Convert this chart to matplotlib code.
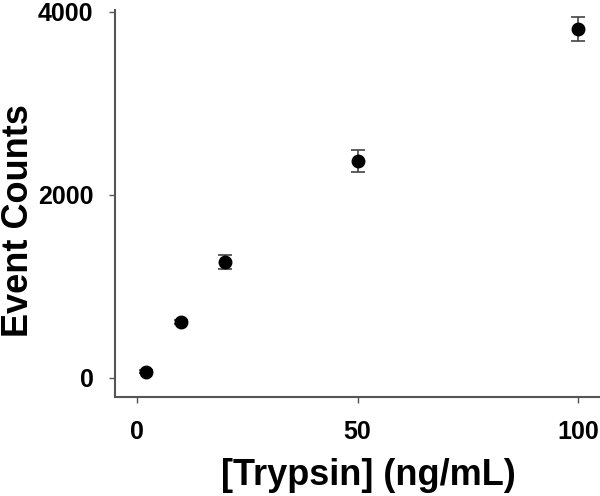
import numpy as np
import matplotlib.pyplot as plt

plt.rcParams['font.family'] = ['Liberation Sans', 'DejaVu Sans']

# data
trypsin = [2, 10, 20, 50, 100]
counts = [70, 612, 1270, 2370, 3815]
err = [20, 25, 75, 120, 130]

fig = plt.figure(figsize=(6, 4.96), dpi=100)
ax = fig.add_axes([115/600, 1 - 397/496, 485/600, 387/496])

ax.errorbar(trypsin, counts, yerr=err, fmt='o', color='black', ms=9,
            ecolor='#444444', elinewidth=1.2, capsize=5, capthick=1.2)

ax.set_xlim(-5, 105)
ax.set_ylim(-208, 4020)
ax.set_xticks([0, 50, 100])
ax.set_yticks([0, 2000, 4000])

for s in ['top', 'right']:
    ax.spines[s].set_visible(False)
for s in ['left', 'bottom']:
    ax.spines[s].set_color('#555555')
    ax.spines[s].set_linewidth(1.5)

ax.tick_params(direction='out', length=4.5, width=1, color='#555555',
               labelsize=18)
ax.tick_params(axis='y', pad=11)
ax.tick_params(axis='x', pad=12)
for lab in ax.get_xticklabels() + ax.get_yticklabels():
    lab.set_fontweight('bold')

ax.set_xlabel('[Trypsin] (ng/mL)', fontsize=26, fontweight='bold')
ax.set_ylabel('Event Counts', fontsize=26, fontweight='bold')
ax.xaxis.set_label_coords(0.5216, -0.158)
ax.yaxis.set_label_coords(-0.163, 0.455)

plt.savefig('out.png', dpi=100)
